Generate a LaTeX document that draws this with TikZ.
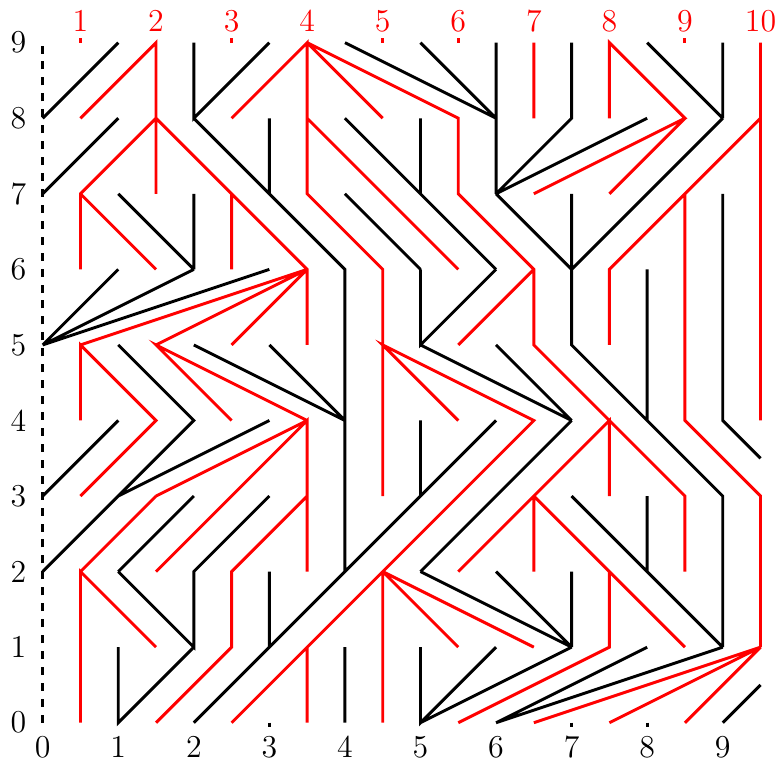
\documentclass[tikz,border=0pt]{standalone}
\begin{document}
\begin{tikzpicture}[x=1cm,y=1cm,
  blk/.style={black,line width=1.1pt},
  rd/.style={red,line width=1.1pt},
  lab/.style={font=\large,inner sep=0pt}]
\useasboundingbox (-0.565,-0.494) rectangle (9.705,9.565);
\draw[blk,dashed] (0,0) -- (0,9);
\foreach \i in {0,...,9} {
  \node[lab] (L\i) at (-0.32,\i) {\i};
  \node[lab] (B\i) at (\i,-0.32) {\i};
}
\foreach \i in {1,...,10} \node[lab,red] (T\i) at (\i-0.5,9.29) {\i};
% black tree
\draw[blk] (0,8)--(1,9) (0,7)--(1,8) (2,9)--(2,8)--(3,9) (2,8)--(4,6)--(4,2)
  (3,8)--(3,7) (2,7)--(2,6) (1,7)--(2,6) (0,5)--(1,6) (0,5)--(2,6) (0,5)--(3,6)
  (1,5)--(2,4)--(1,3)--(0,2) (1,3)--(3,4) (0,3)--(1,4) (2,5)--(4,4) (3,5)--(4,4)
  (1,2)--(2,3) (1,2)--(2,1)--(2,2)--(3,3) (1,1)--(1,0)--(2,1) (2,0)--(6,4)
  (3,2)--(3,1) (5,4)--(5,3) (4,1)--(4,0) (4,9)--(6,8) (5,9)--(6,8) (6,9)--(6,7)
  (7,9)--(7,8)--(6,7) (6,7)--(8,8) (6,7)--(7,6)--(9,8) (7,7)--(7,6)
  (9,9)--(9,8) (8,9)--(9,8) (9,7)--(9,4)--(9.5,3.5) (7,6)--(7,5)--(9,3)--(9,1)
  (8,6)--(8,4) (7,3)--(9,1) (8,3)--(8,2) (9,1)--(6,0) (8,1)--(6,0) (9,0)--(9.5,0.5)
  (7,2)--(7,1) (6,2)--(7,1) (5,2)--(7,1) (5,0)--(7,1) (5,1)--(5,0)--(6,1)
  (5,2)--(7,4) (5,5)--(7,4) (6,5)--(7,4) (5,6)--(5,5)--(6,6) (4,8)--(6,6)
  (4,7)--(5,6) (5,8)--(5,7);
\draw[blk] (3,0)--(3,-0.05) (7,0)--(7,-0.05) (8,0)--(8,-0.05);
% red tree
\draw[rd] (0.5,8)--(1.5,9)--(1.5,7) (1.5,8)--(0.5,7)--(0.5,6) (0.5,7)--(1.5,6)
  (1.5,8)--(3.5,6)--(3.5,5) (2.5,7)--(2.5,6)
  (2.5,8)--(3.5,9)--(3.5,7)--(4.5,6)--(4.5,3) (3.5,9)--(4.5,8)
  (3.5,9)--(5.5,8)--(5.5,7)--(6.5,6)--(6.5,5)--(8.5,3)--(8.5,2)
  (3.5,8)--(5.5,6) (6.5,6)--(5.5,5)
  (0.5,5)--(3.5,6) (1.5,5)--(3.5,6) (2.5,5)--(3.5,6)
  (0.5,4)--(0.5,5)--(1.5,4)--(0.5,3) (2.5,4)--(1.5,5)--(3.5,4)
  (1.5,3)--(3.5,4) (1.5,2)--(3.5,4)--(3.5,2) (0.5,2)--(1.5,3)
  (0.5,0)--(0.5,2)--(1.5,1) (3.5,3)--(2.5,2)--(2.5,1)--(1.5,0)
  (2.5,0)--(4.5,2)--(6.5,4)--(4.5,5)--(5.5,4) (3.5,1)--(3.5,0)
  (4.5,2)--(4.5,0) (4.5,2)--(5.5,1) (4.5,2)--(6.5,1)
  (5.5,2)--(7.5,4)--(7.5,3) (6.5,3)--(6.5,2) (6.5,3)--(8.5,1)
  (7.5,2)--(7.5,1)--(5.5,0) (6.5,9)--(6.5,8)
  (7.5,8)--(7.5,9)--(8.5,8)--(6.5,7) (8.5,8)--(7.5,7)
  (9.5,9)--(9.5,4) (9.5,8)--(7.5,6)--(7.5,5)
  (8.5,7)--(8.5,4)--(9.5,3)--(9.5,1)
  (9.5,1)--(6.5,0) (9.5,1)--(7.5,0) (9.5,1)--(8.5,0);
\draw[rd] (0.5,9)--(0.5,9.06) (2.5,9)--(2.5,9.06) (4.5,9)--(4.5,9.06)
  (5.5,9)--(5.5,9.06) (8.5,9)--(8.5,9.06);
\end{tikzpicture}
\end{document}
